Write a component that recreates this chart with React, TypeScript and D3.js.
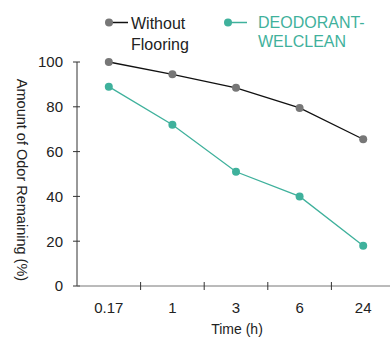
import React from "react";
import * as d3 from "d3";

const categories = ["0.17", "1", "3", "6", "24"];
const withoutFlooring = [100, 94.5, 88.5, 79.5, 65.5];
const deodorant = [89, 72, 51, 40, 18];
const yTicks = [0, 20, 40, 60, 80, 100];

const W = 390, H = 340;
const left = 77, right = 395, top = 62, bottom = 286;
const TEAL = "#3fb19c";
const GREY = "#777777";
const FONT = "'Liberation Sans', Arial, sans-serif";

export default function App() {
  const x = d3.scaleBand<string>().domain(categories).range([left, right]);
  const y = d3.scaleLinear().domain([0, 100]).range([bottom, top]);
  const cx = (c: string) => (x(c) as number) + x.bandwidth() / 2;
  const line = d3.line<number>().x((_, i) => cx(categories[i])).y((d) => y(d));
  const boundaries = categories.slice(1).map((c) => x(c) as number);

  return (
    <svg width={W} height={H} style={{ position: "absolute", left: 0, top: 0, background: "#fff" }} fontFamily={FONT}>
      {/* y axis */}
      <line x1={left} x2={left} y1={top} y2={bottom} stroke="#333" strokeWidth={1} />
      {yTicks.map((t) => (
        <g key={t}>
          <line x1={left - 4} x2={left + 3} y1={y(t)} y2={y(t)} stroke="#333" />
          <text x={left - 14} y={y(t)} dy="0.36em" textAnchor="end" fontSize={15} fill="#222">{t}</text>
        </g>
      ))}
      {/* x axis */}
      <line x1={left} x2={W} y1={bottom} y2={bottom} stroke="#777" strokeWidth={1} />
      {boundaries.map((b, i) => (
        <line key={i} x1={b} x2={b} y1={bottom - 4} y2={bottom + 4} stroke="#333" />
      ))}
      {categories.map((c) => (
        <text key={c} x={cx(c)} y={313} textAnchor="middle" fontSize={15} fill="#222">{c}</text>
      ))}
      <text x={237} y={334} textAnchor="middle" fontSize={14} fill="#222">Time (h)</text>
      <text transform={`translate(17,180) rotate(90)`} textAnchor="middle" fontSize={14.5} fill="#222">
        Amount of Odor Remaining (%)
      </text>

      {/* series */}
      <path d={line(withoutFlooring) || ""} fill="none" stroke="#111" strokeWidth={1.3} />
      <path d={line(deodorant) || ""} fill="none" stroke={TEAL} strokeWidth={1.3} />
      {withoutFlooring.map((v, i) => (
        <circle key={"a" + i} cx={cx(categories[i])} cy={y(v)} r={4} fill={GREY} />
      ))}
      {deodorant.map((v, i) => (
        <circle key={"b" + i} cx={cx(categories[i])} cy={y(v)} r={4} fill={TEAL} />
      ))}

      {/* legend */}
      <line x1={109} x2={128} y1={22.5} y2={22.5} stroke="#111" strokeWidth={1.5} />
      <circle cx={109} cy={22.5} r={4} fill={GREY} />
      <text x={131} y={29} fontSize={16} fill="#222">Without</text>
      <text x={131} y={50} fontSize={16} fill="#222">Flooring</text>
      <line x1={228} x2={247} y1={22.5} y2={22.5} stroke={TEAL} strokeWidth={1.5} />
      <circle cx={228} cy={22.5} r={4} fill={TEAL} />
      <text x={258} y={28} fontSize={16} fill={TEAL}>DEODORANT-</text>
      <text x={258} y={47} fontSize={16} fill={TEAL}>WELCLEAN</text>
    </svg>
  );
}
